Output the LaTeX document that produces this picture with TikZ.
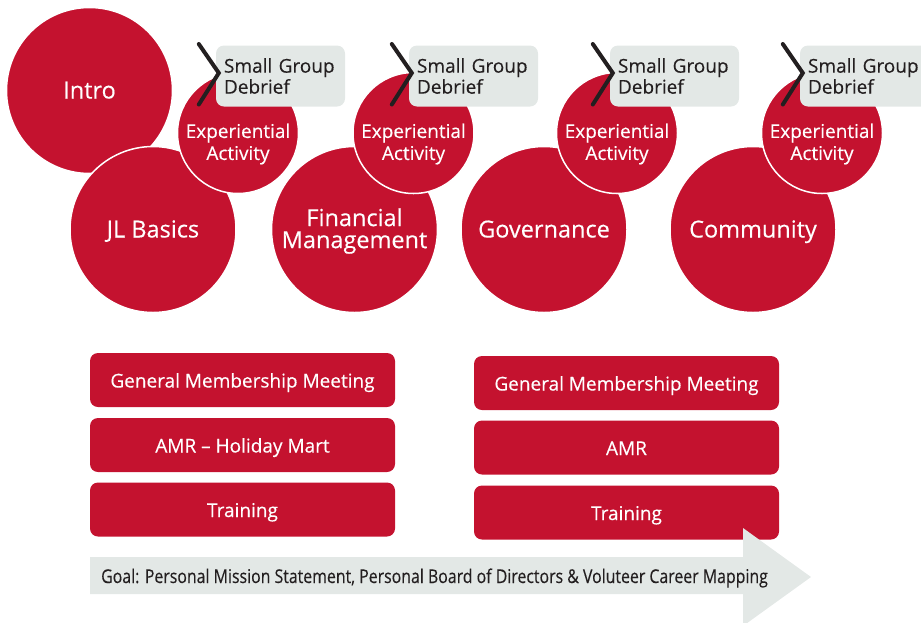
\documentclass[tikz,border=0pt]{standalone}
\usepackage{fontspec}
\setmainfont[FakeBold=0.3]{Open Sans}
\newfontfamily\goalfont[FakeStretch=0.835,FakeBold=0.3]{Open Sans}
\definecolor{jlred}{HTML}{C4122F}
\definecolor{jlgray}{HTML}{E3E8E6}
\definecolor{jlink}{HTML}{231F20}
\tikzset{
  topic/.style={circle, fill=jlred, draw=white, line width=1.5pt, minimum size=166pt, inner sep=0pt},
  topictext/.style={text=white, align=center, font=\fontsize{23.5}{22}\selectfont},
  topiclabel/.style={topictext, text height=16pt, text depth=0pt},
  activity/.style={circle, fill=jlred, draw=white, line width=1.5pt, minimum size=121pt, inner sep=0pt},
  actlabel/.style={text=white, align=center, yshift=-11pt, font=\fontsize{19}{22}\selectfont},
  debrief/.style={rectangle, rounded corners=8pt, fill=jlgray, minimum width=129pt, minimum height=61pt, text width=113pt, inner xsep=8pt, align=left, text=jlink, font=\fontsize{19}{21}\selectfont},
  chevron/.style={draw=jlink, line width=4pt, line cap=round},
  event/.style={rectangle, rounded corners=8pt, fill=jlred, minimum width=305pt, minimum height=54pt, text height=15pt, text depth=0pt, text=white, font=\fontsize{19}{22}\selectfont},
}
\begin{document}
\begin{tikzpicture}[x=1pt, y=-1pt]
\useasboundingbox (0,0) rectangle (921,622);
\clip (0,0) rectangle (921,622);
% topic circles
\node[topic, label={[topiclabel]center:Intro}] (intro) at (89.5,90.5){};
\node[topic, label={[topiclabel]center:JL Basics}] (basics) at (153,229.5){};
\node[topic, label={[topictext, yshift=-1.5pt]center:Financial\\Management}] (finance) at (354.5,229.5){};
\node[topic, label={[topiclabel]center:Governance}] (governance) at (544,229.5){};
\node[topic, label={[topiclabel]center:Community}] (community) at (753,229.5){};
% experiential activities
\node[activity, label={[actlabel]center:Experiential\\Activity}] (exp1) at (238,133){};
\node[activity, label={[actlabel]center:Experiential\\Activity}] (exp2) at (413.5,133){};
\node[activity, label={[actlabel]center:Experiential\\Activity}] (exp3) at (617,133){};
\node[activity, label={[actlabel]center:Experiential\\Activity}] (exp4) at (822,133){};
% small group debriefs
\node[debrief] (sg1) at (280.5,76){Small Group\\Debrief};
\draw[chevron] ([xshift=-17pt,yshift=32pt]sg1.west) -- ([xshift=3pt,yshift=3pt]sg1.west) -- ([xshift=-17pt,yshift=-28.5pt]sg1.west);
\node[debrief] (sg2) at (473.5,76){Small Group\\Debrief};
\draw[chevron] ([xshift=-17pt,yshift=32pt]sg2.west) -- ([xshift=3pt,yshift=3pt]sg2.west) -- ([xshift=-17pt,yshift=-28.5pt]sg2.west);
\node[debrief] (sg3) at (674.5,76){Small Group\\Debrief};
\draw[chevron] ([xshift=-17pt,yshift=32pt]sg3.west) -- ([xshift=3pt,yshift=3pt]sg3.west) -- ([xshift=-17pt,yshift=-28.5pt]sg3.west);
\node[debrief] (sg4) at (864.5,76){Small Group\\Debrief};
\draw[chevron] ([xshift=-17pt,yshift=32pt]sg4.west) -- ([xshift=3pt,yshift=3pt]sg4.west) -- ([xshift=-17pt,yshift=-28.5pt]sg4.west);
% events
\node[event] (gmm1) at (242.5,380){General Membership Meeting};
\node[event] (amr1) at (242.5,445){AMR -- Holiday Mart};
\node[event] (train1) at (242.5,509.5){Training};
\node[event] (gmm2) at (626.5,383){General Membership Meeting};
\node[event] (amr2) at (626.5,447.5){AMR};
\node[event] (train2) at (626.5,512.5){Training};
% goal arrow
\fill[jlgray] (90,557) -- (743,557) -- (743,528) -- (811,577) -- (743,626) -- (743,594) -- (90,594) -- cycle;
\node[anchor=base west, inner sep=0pt, text=jlink, font=\goalfont\fontsize{19}{20}\selectfont] (goal) at (101,583){Goal: Personal Mission Statement, Personal Board of Directors \& Voluteer Career Mapping};
\end{tikzpicture}
\end{document}
